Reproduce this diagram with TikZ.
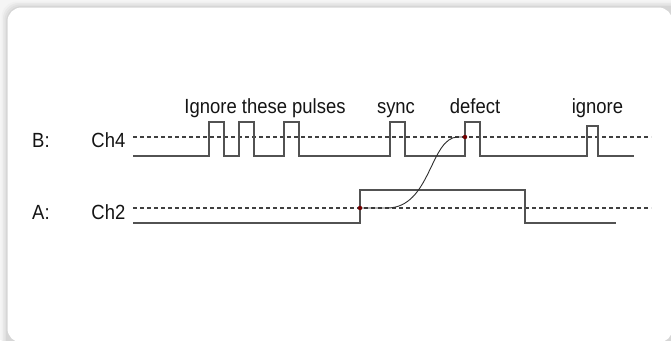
\documentclass[tikz,border=0pt]{standalone}
\usepackage{fontspec}
\setmainfont{Liberation Sans}
\newcommand{\narrowtxt}[1]{\scalebox{0.9}[1]{#1}}
\begin{document}
\begin{tikzpicture}[x=1pt,y=-1pt,
  wave/.style={draw=black!68,line width=1.3pt,line join=miter},
  refline/.style={draw=black!75,line width=1.1pt,dash pattern=on 4pt off 3pt},
  trace/.style={draw=black!82,line width=0.9pt},
  marker/.style={circle,fill=red!45!black,inner sep=0pt,minimum size=4.2pt},
  lbl/.style={font=\fontsize{20.5}{24}\selectfont,inner sep=0pt,anchor=base,text=black!92}]
\useasboundingbox (0,0) rectangle (671,340);
% panel background with soft shadow
\fill[black!4] (0,0) rectangle (671,340);
\foreach \d/\c in {6/6,4.5/9,3/12,1.5/16}
  \fill[black!\c,rounded corners=16pt] (7.5-\d,7.5-\d) rectangle (690,360);
\fill[white,rounded corners=14pt] (7.5,7.5) rectangle (672.5,342.5);

% channel labels
\node[lbl,anchor=base west] (bl) at (32,147.5) {\narrowtxt{B:}};
\node[lbl,anchor=base west] (al) at (32,219.5) {\narrowtxt{A:}};
\node[lbl,anchor=base east] (ch4) at (125.5,147.5) {\narrowtxt{Ch4}};
\node[lbl,anchor=base east] (ch2) at (125.5,219.5) {\narrowtxt{Ch2}};

% pulse annotations
\node[lbl] (ign) at (265,113) {\narrowtxt{Ignore these pulses}};
\node[lbl] (sync) at (396,113) {\narrowtxt{sync}};
\node[lbl] (def) at (475,113) {\narrowtxt{defect}};
\node[lbl] (ign2) at (597.5,113) {\narrowtxt{ignore}};

% threshold levels
\draw[refline] (133,137) -- (651,137);
\draw[refline] (133,208) -- (651,208);

% channel 4 pulse train
\draw[wave] (133,156) -- (209,156) |- (224,122) |- (239,156) |- (254,122) |- (284,156)
  |- (299,122) |- (390,156) |- (405,122) |- (465,156) |- (480,122) |- (587,156)
  |- (598,126) |- (634,156);
% channel 2 gate
\draw[wave] (133,223) -- (360,223) |- (525,190) |- (616,223);

% crossing points and delay trace
\node[marker] (pa) at (360,208) {};
\node[marker] (pb) at (465,137) {};
\draw[trace] (pa.center) -- (387,208) .. controls (431,208) and (430,137) .. (458,137) -- (pb.center);
\node[marker] at (pa) {};
\node[marker] at (pb) {};
\end{tikzpicture}
\end{document}
